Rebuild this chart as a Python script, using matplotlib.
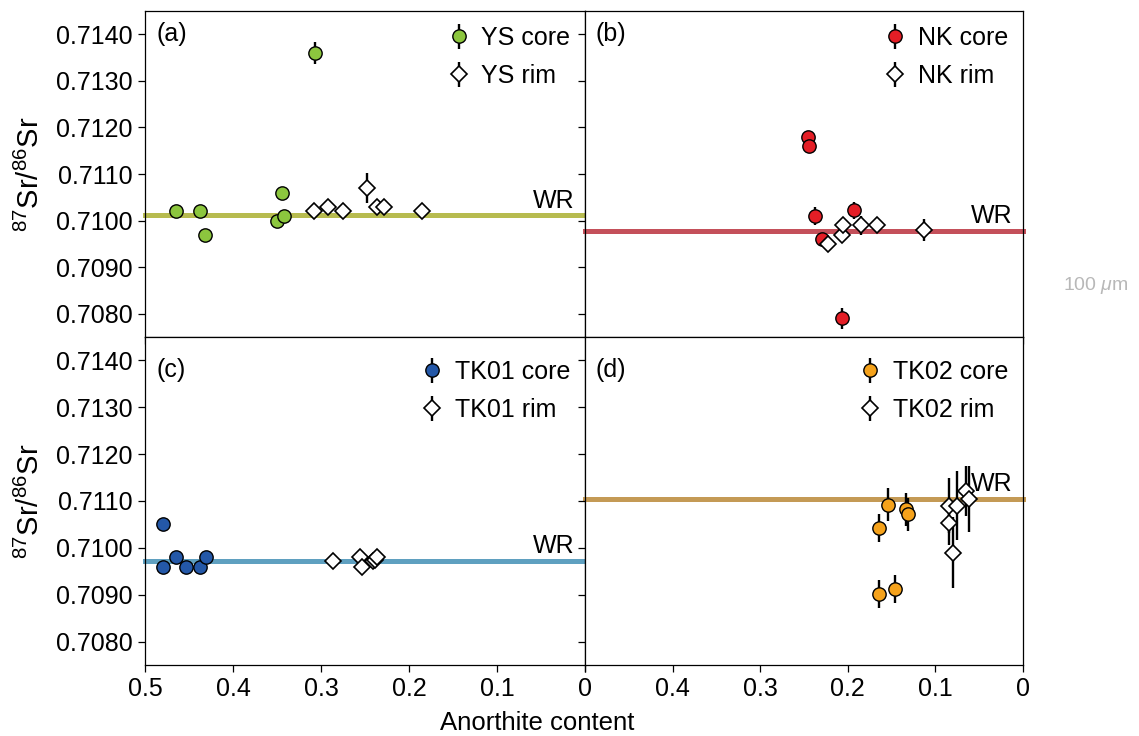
import matplotlib
matplotlib.use("Agg")
import matplotlib.pyplot as plt
import numpy as np

plt.rcParams['font.family'] = ['Liberation Sans', 'DejaVu Sans']
plt.rcParams['mathtext.fontset'] = 'custom'
plt.rcParams['mathtext.rm'] = 'Liberation Sans'
plt.rcParams['mathtext.it'] = 'Liberation Sans:italic'

# (a) YS
ys_core_an = [0.465, 0.437, 0.432, 0.350, 0.342, 0.344, 0.307]
ys_core_sr = [0.71020, 0.71020, 0.70970, 0.71000, 0.71010, 0.71060, 0.71360]
ys_core_err = [0.00005, 0.00005, 0.00005, 0.00005, 0.00005, 0.00005, 0.00023]
ys_rim_an = [0.308, 0.292, 0.275, 0.248, 0.236, 0.228, 0.185]
ys_rim_sr = [0.71020, 0.71029, 0.71020, 0.71070, 0.71030, 0.71030, 0.71020]
ys_rim_err = [0.00005, 0.00005, 0.00005, 0.00033, 0.00005, 0.00005, 0.00005]
ys_wr = 0.71011

# (b) NK
nk_core_an = [0.245, 0.244, 0.237, 0.230, 0.193, 0.207]
nk_core_sr = [0.71180, 0.71160, 0.71010, 0.70960, 0.71022, 0.70790]
nk_core_err = [0.00005, 0.00005, 0.00020, 0.00005, 0.00018, 0.00023]
nk_rim_an = [0.223, 0.207, 0.205, 0.185, 0.167, 0.113]
nk_rim_sr = [0.70950, 0.70970, 0.70990, 0.70990, 0.70990, 0.70980]
nk_rim_err = [0.00005, 0.00008, 0.00008, 0.00020, 0.00005, 0.00023]
nk_wr = 0.70978

# (c) TK01
tk1_core_an = [0.479, 0.479, 0.465, 0.453, 0.437, 0.431]
tk1_core_sr = [0.71051, 0.70960, 0.70980, 0.70960, 0.70960, 0.70980]
tk1_core_err = [0.00005] * 6
tk1_rim_an = [0.286, 0.256, 0.253, 0.241, 0.239, 0.236]
tk1_rim_sr = [0.70971, 0.70980, 0.70960, 0.70971, 0.70975, 0.70980]
tk1_rim_err = [0.00005] * 6
tk1_wr = 0.70973

# (d) TK02
tk2_core_an = [0.164, 0.154, 0.133, 0.131, 0.164, 0.146]
tk2_core_sr = [0.71042, 0.71092, 0.71082, 0.71072, 0.70901, 0.70912]
tk2_core_err = [0.00030, 0.00035, 0.00035, 0.00035, 0.00030, 0.00030]
tk2_rim_an = [0.085, 0.085, 0.080, 0.075, 0.065, 0.062]
tk2_rim_sr = [0.71090, 0.71052, 0.70990, 0.71090, 0.71121, 0.71104]
tk2_rim_err = [0.00059, 0.00045, 0.00075, 0.00074, 0.00054, 0.00070]
tk2_wr = 0.71104

panels = [
    ("(a)", "YS", ys_core_an, ys_core_sr, ys_core_err, ys_rim_an, ys_rim_sr, ys_rim_err, ys_wr, "#8cc63e", "#b7bb4f"),
    ("(b)", "NK", nk_core_an, nk_core_sr, nk_core_err, nk_rim_an, nk_rim_sr, nk_rim_err, nk_wr, "#e41e26", "#c4505a"),
    ("(c)", "TK01", tk1_core_an, tk1_core_sr, tk1_core_err, tk1_rim_an, tk1_rim_sr, tk1_rim_err, tk1_wr, "#2458a8", "#5fa0c0"),
    ("(d)", "TK02", tk2_core_an, tk2_core_sr, tk2_core_err, tk2_rim_an, tk2_rim_sr, tk2_rim_err, tk2_wr, "#f5a21b", "#c49a55"),
]

W, H = 1139, 736
fig = plt.figure(figsize=(W / 100, H / 100), dpi=100)

# axes boxes in pixels: left, top, width, height
boxes = [(145, 11, 440, 326), (585, 11, 438, 326),
         (145, 337, 440, 328), (585, 337, 438, 328)]

yticks = [0.7080, 0.7090, 0.7100, 0.7110, 0.7120, 0.7130, 0.7140]
xticks = [0.5, 0.4, 0.3, 0.2, 0.1, 0.0]
fs = 18

for i, (lab, name, c_an, c_sr, c_err, r_an, r_sr, r_err, wr, col, wrcol) in enumerate(panels):
    l, t, w, h = boxes[i]
    ax = fig.add_axes([l / W, (H - t - h) / H, w / W, h / H])
    ax.set_xlim(0.5, 0.0)
    ax.set_ylim(0.7075, 0.7145)

    ax.plot([0.5, 0.0], [wr, wr], color=wrcol, lw=3.6, solid_capstyle='projecting',
            clip_on=False, zorder=1)
    ax.text(0.012, wr + 0.00006, "WR", ha='right', va='bottom', fontsize=fs)

    ax.errorbar(c_an, c_sr, yerr=c_err, fmt='o', ms=9.6, mfc=col, mec='k', mew=1.0,
                ecolor='k', elinewidth=1.7, capsize=0, label=name + " core", zorder=3)
    ax.errorbar(r_an, r_sr, yerr=r_err, fmt='D', ms=8.0, mfc='white', mec='k', mew=1.2,
                ecolor='k', elinewidth=1.7, capsize=0, label=name + " rim", zorder=4)

    ax.set_yticks(yticks)
    ax.set_xticks(xticks)
    ax.tick_params(direction='out', length=5, width=0.9, labelsize=fs, pad=4)
    for s in ax.spines.values():
        s.set_linewidth(0.9)

    if i % 2 == 0:
        ax.set_yticklabels(["%.4f" % v for v in yticks])
        ax.set_ylabel(r"$^{87}$Sr/$^{86}$Sr", fontsize=21)
        ax.yaxis.set_label_coords(-0.228, 0.5)
    else:
        ax.set_yticklabels([])
    if i >= 2:
        if i == 2:
            ax.set_xticklabels(["0.5", "0.4", "0.3", "0.2", "0.1", "0"])
        else:
            ax.set_xticklabels(["", "0.4", "0.3", "0.2", "0.1", "0"])
    else:
        ax.set_xticklabels([])

    toff = 0.93 if i < 2 else 0.9
    ax.text(0.025, toff, lab, transform=ax.transAxes, fontsize=fs, va='center', ha='left')
    ax.legend(loc='upper right', bbox_to_anchor=(1.0, 1.0 if i < 2 else 0.975),
              frameon=False, fontsize=fs, handlelength=0.8, handletextpad=0.5,
              labelspacing=0.55, borderaxespad=0.2)

fig.text(537 / W, 1 - 723 / H, "Anorthite content", ha='center', va='center', fontsize=18.5)
fig.text(1096 / W, 1 - 286 / H, r"100 $\mu$m", ha='center', va='center', fontsize=14,
         color='#b8b8b8')

fig.savefig("out.png", dpi=100)
